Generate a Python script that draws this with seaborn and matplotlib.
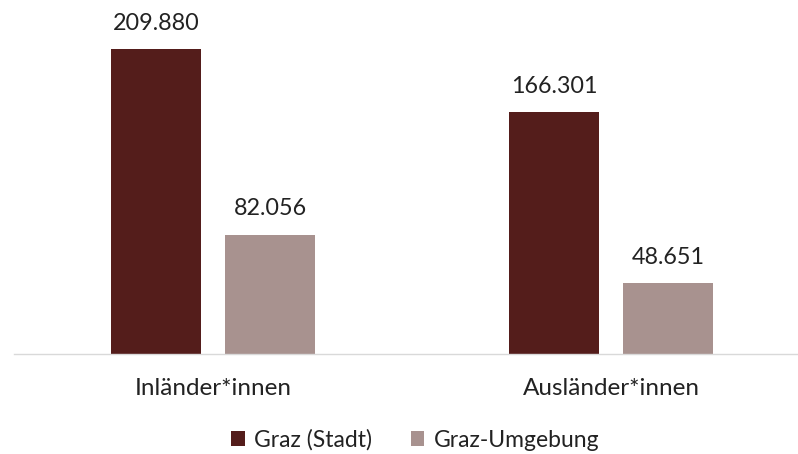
import matplotlib
matplotlib.use("Agg")
import matplotlib.pyplot as plt
import seaborn as sns
import pandas as pd
from matplotlib.patches import Patch

categories = ["Inländer*innen", "Ausländer*innen"]
series = ["Graz (Stadt)", "Graz-Umgebung"]
graz_stadt = [209880, 166301]
graz_umgebung = [82056, 48651]
value_labels = [["209.880", "166.301"], ["82.056", "48.651"]]
colors = ["#541d1b", "#a8928f"]

df = pd.DataFrame({
    "Kategorie": categories * 2,
    "Region": [series[0]] * 2 + [series[1]] * 2,
    "Wert": graz_stadt + graz_umgebung,
})

sns.set_theme(style="white")
plt.rcParams["font.family"] = ["Lato", "DejaVu Sans"]

fig = plt.figure(figsize=(7.98, 4.54), dpi=100)
ax = fig.add_axes([14 / 798, 100 / 454, 784 / 798, 334 / 454])

sns.barplot(data=df, x="Kategorie", y="Wert", hue="Region", order=categories,
            hue_order=series, palette=colors, saturation=1, width=0.573, gap=0.21,
            edgecolor="none", legend=False, ax=ax)

for cont, labs in zip(ax.containers, value_labels):
    ax.bar_label(cont, labels=labs, padding=11, fontsize=16.8, color="#222222")

ax.set_xlim(-0.5, 1.47)
ax.set_ylim(0, 229840)
ax.set_xlabel("")
ax.set_ylabel("")
ax.set_yticks([])
ax.tick_params(axis="x", length=0, pad=17, labelsize=17.5, labelcolor="#222222")
for s in ["top", "right", "left"]:
    ax.spines[s].set_visible(False)
ax.spines["bottom"].set_color("#d9d9d9")
ax.spines["bottom"].set_linewidth(1.0)

handles = [Patch(facecolor=c, edgecolor="none") for c in colors]
fig.legend(handles, series, loc="center", bbox_to_anchor=(0.52, 14 / 454),
           ncol=2, frameon=False, fontsize=16.5, handlelength=0.6, handleheight=0.6,
           handletextpad=0.4, columnspacing=1.7, labelcolor="#222222")

fig.savefig("out.png", dpi=100, facecolor="white")
